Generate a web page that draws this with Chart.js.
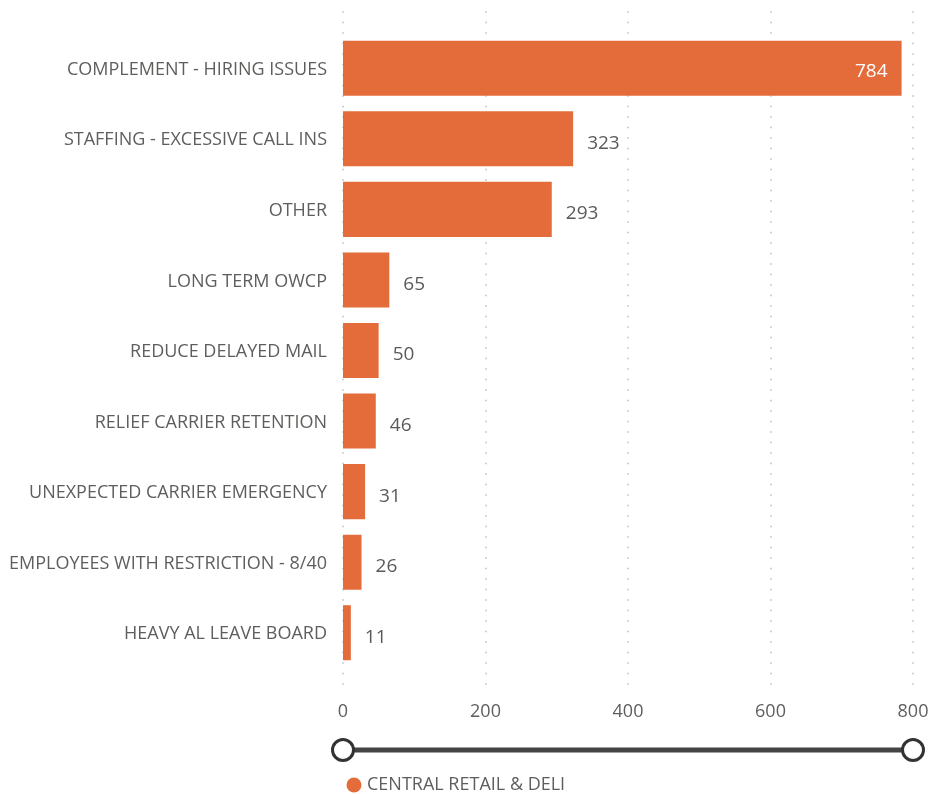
<!DOCTYPE html>
<html>
<head>
<meta charset="utf-8">
<script src="https://cdn.jsdelivr.net/npm/chart.js@4.4.1/dist/chart.umd.min.js"></script>
<style>
  html, body { margin: 0; padding: 0; background: #ffffff; }
  #wrap { width: 932px; height: 794px; position: relative; }
</style>
</head>
<body>
<div id="wrap"><canvas id="c" width="932" height="794"></canvas></div>
<script>
const categories = [
  'COMPLEMENT - HIRING ISSUES',
  'STAFFING - EXCESSIVE CALL INS',
  'OTHER',
  'LONG TERM OWCP',
  'REDUCE DELAYED MAIL',
  'RELIEF CARRIER RETENTION',
  'UNEXPECTED CARRIER EMERGENCY',
  'EMPLOYEES WITH RESTRICTION - 8/40',
  'HEAVY AL LEAVE BOARD'
];
const values = [784, 323, 293, 65, 50, 46, 31, 26, 11];
const xTicks = [0, 200, 400, 600, 800];
const seriesName = 'CENTRAL RETAIL & DELI';

const BAR_COLOR = '#E46C3A';
const TEXT_COLOR = '#605E5C';
const FONT = '"Open Sans", "Noto Sans", sans-serif';

const gridPlugin = {
  id: 'dottedGrid',
  beforeDatasetsDraw(chart) {
    const ctx = chart.ctx;
    const xs = chart.scales.x;
    ctx.save();
    ctx.fillStyle = '#bdbdbd';
    xTicks.forEach(v => {
      const x = Math.round(xs.getPixelForValue(v));
      for (let y = 12; y <= 690; y += 10.5) {
        ctx.fillRect(x - 0.75, y - 0.75, 1.5, 1.5);
      }
    });
    ctx.restore();
  }
};

const valueLabelPlugin = {
  id: 'valueLabels',
  afterDatasetsDraw(chart) {
    const ctx = chart.ctx;
    const meta = chart.getDatasetMeta(0);
    const maxV = Math.max(...values);
    ctx.save();
    ctx.font = '19px ' + FONT;
    ctx.textBaseline = 'middle';
    meta.data.forEach((bar, i) => {
      const v = values[i];
      if (v === maxV) {
        ctx.textAlign = 'right';
        ctx.fillStyle = '#ffffff';
        ctx.fillText(String(v), bar.x - 14, bar.y + 3.5);
      } else {
        ctx.textAlign = 'left';
        ctx.fillStyle = '#5a5a5a';
        ctx.fillText(String(v), bar.x + 14, bar.y + 4.5);
      }
    });
    ctx.restore();
  }
};

const sliderLegendPlugin = {
  id: 'sliderLegend',
  afterDraw(chart) {
    const ctx = chart.ctx;
    const xs = chart.scales.x;
    const x0 = xs.getPixelForValue(xTicks[0]);
    const x1 = xs.getPixelForValue(xTicks[xTicks.length - 1]);
    const sy = 750;
    ctx.save();
    ctx.strokeStyle = '#444444';
    ctx.lineWidth = 5;
    ctx.beginPath();
    ctx.moveTo(x0, sy);
    ctx.lineTo(x1, sy);
    ctx.stroke();
    [x0, x1].forEach(x => {
      ctx.beginPath();
      ctx.arc(x, sy, 10.5, 0, Math.PI * 2);
      ctx.fillStyle = '#ffffff';
      ctx.fill();
      ctx.lineWidth = 3;
      ctx.strokeStyle = '#333333';
      ctx.stroke();
    });
    // legend
    const ly = 785;
    ctx.beginPath();
    ctx.arc(x0 + 11, ly, 7.5, 0, Math.PI * 2);
    ctx.fillStyle = BAR_COLOR;
    ctx.fill();
    ctx.font = '18px ' + FONT;
    ctx.fillStyle = TEXT_COLOR;
    ctx.textAlign = 'left';
    ctx.textBaseline = 'middle';
    ctx.fillText(seriesName, x0 + 24, ly);
    ctx.restore();
  }
};

new Chart(document.getElementById('c'), {
  type: 'bar',
  data: {
    labels: categories,
    datasets: [{
      label: seriesName,
      data: values,
      backgroundColor: BAR_COLOR,
      borderWidth: 0,
      categoryPercentage: 1,
      barPercentage: 0.78
    }]
  },
  options: {
    indexAxis: 'y',
    responsive: false,
    animation: false,
    events: [],
    layout: { padding: { top: 33, right: 19, left: 0, bottom: 0 } },
    plugins: {
      legend: { display: false },
      tooltip: { enabled: false }
    },
    scales: {
      x: {
        type: 'linear',
        min: 0,
        max: 800,
        afterBuildTicks(scale) { scale.ticks = xTicks.map(v => ({ value: v })); },
        afterFit(scale) {
          scale.height = 126;
          scale.paddingLeft = 0;
          scale.paddingRight = 0;
        },
        grid: { display: false, drawTicks: false },
        border: { display: false },
        ticks: {
          padding: 33,
          color: TEXT_COLOR,
          font: { family: FONT, size: 18 },
          maxRotation: 0
        }
      },
      y: {
        afterFit(scale) {
          scale.width = 343;
          scale.paddingTop = 0;
          scale.paddingBottom = 0;
        },
        grid: { display: false, drawTicks: false },
        border: { display: false },
        ticks: {
          padding: 16,
          labelOffset: 1.5,
          color: TEXT_COLOR,
          font: { family: FONT, size: 18 },
          autoSkip: false
        }
      }
    }
  },
  plugins: [gridPlugin, valueLabelPlugin, sliderLegendPlugin]
});
</script>
</body>
</html>
